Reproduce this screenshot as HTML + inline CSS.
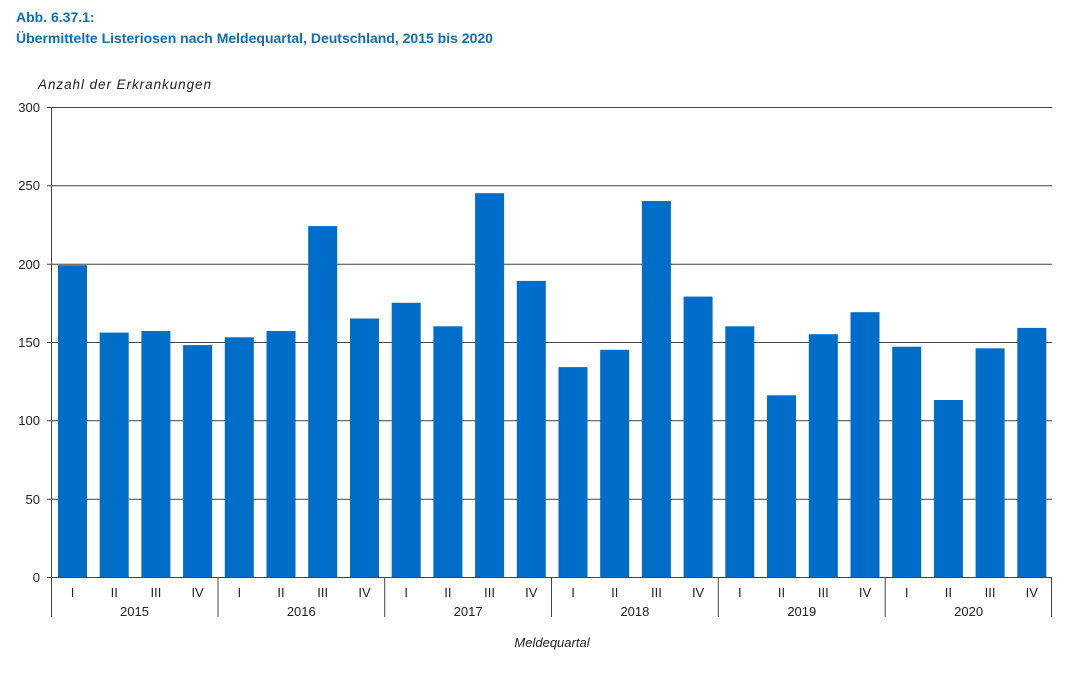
<!DOCTYPE html>
<html><head><meta charset="utf-8"><style>
body{margin:0;background:#fff;}
svg{display:block;font-family:"Liberation Sans",sans-serif;}
</style></head><body>
<svg width="1080" height="675" viewBox="0 0 1080 675" xmlns="http://www.w3.org/2000/svg">
<text x="16" y="22" font-size="14" font-weight="bold" fill="#0a6fc2">Abb. 6.37.1:</text>
<text x="16" y="43" font-size="14" font-weight="bold" fill="#0a6fc2">Übermittelte Listeriosen nach Meldequartal, Deutschland, 2015 bis 2020</text>
<text x="38" y="89" font-size="13.5" font-style="italic" fill="#222" textLength="173">Anzahl der Erkrankungen</text>
<g stroke="#444" stroke-width="1">
<line x1="47" y1="107.5" x2="1052" y2="107.5"/>
<line x1="47" y1="185.8" x2="1052" y2="185.8"/>
<line x1="47" y1="264.2" x2="1052" y2="264.2"/>
<line x1="47" y1="342.5" x2="1052" y2="342.5"/>
<line x1="47" y1="420.8" x2="1052" y2="420.8"/>
<line x1="47" y1="499.2" x2="1052" y2="499.2"/>
</g>
<g font-size="13" fill="#222" text-anchor="end">
<text x="40" y="112">300</text><text x="40" y="190">250</text><text x="40" y="269">200</text>
<text x="40" y="347">150</text><text x="40" y="425">100</text><text x="40" y="504">50</text><text x="40" y="582">0</text>
</g>
<g fill="#006ec8">
<rect x="58" y="265.2" width="29" height="311.8"/>
<rect x="99.7" y="332.6" width="29" height="244.4"/>
<rect x="141.4" y="331" width="29" height="246"/>
<rect x="183.1" y="345.1" width="29" height="231.9"/>
<rect x="224.8" y="337.3" width="29" height="239.7"/>
<rect x="266.5" y="331" width="29" height="246"/>
<rect x="308.2" y="226.1" width="29" height="350.9"/>
<rect x="350" y="318.5" width="29" height="258.5"/>
<rect x="391.7" y="302.8" width="29" height="274.2"/>
<rect x="433.4" y="326.3" width="29" height="250.7"/>
<rect x="475.1" y="193.2" width="29" height="383.8"/>
<rect x="516.8" y="280.9" width="29" height="296.1"/>
<rect x="558.5" y="367.1" width="29" height="209.9"/>
<rect x="600.2" y="349.8" width="29" height="227.2"/>
<rect x="641.9" y="201" width="29" height="376"/>
<rect x="683.6" y="296.6" width="29" height="280.4"/>
<rect x="725.3" y="326.3" width="29" height="250.7"/>
<rect x="767" y="395.3" width="29" height="181.7"/>
<rect x="808.8" y="334.2" width="29" height="242.8"/>
<rect x="850.5" y="312.2" width="29" height="264.8"/>
<rect x="892.2" y="346.7" width="29" height="230.3"/>
<rect x="933.9" y="400" width="29" height="177"/>
<rect x="975.6" y="348.3" width="29" height="228.7"/>
<rect x="1017.3" y="327.9" width="29" height="249.1"/>
</g>
<g stroke="#444" stroke-width="1">
<line x1="47" y1="577.5" x2="1052" y2="577.5"/>
<line x1="51.5" y1="107" x2="51.5" y2="617"/>
<line x1="218" y1="577" x2="218" y2="617"/>
<line x1="384.7" y1="577" x2="384.7" y2="617"/>
<line x1="551.5" y1="577" x2="551.5" y2="617"/>
<line x1="718.3" y1="577" x2="718.3" y2="617"/>
<line x1="885.2" y1="577" x2="885.2" y2="617"/>
<line x1="1051.5" y1="577" x2="1051.5" y2="617"/>
</g>
<g font-size="13" fill="#222" text-anchor="middle">
<text x="72.5" y="597">I</text><text x="114.2" y="597">II</text><text x="155.9" y="597">III</text><text x="197.6" y="597">IV</text>
<text x="239.3" y="597">I</text><text x="281" y="597">II</text><text x="322.7" y="597">III</text><text x="364.5" y="597">IV</text>
<text x="406.2" y="597">I</text><text x="447.9" y="597">II</text><text x="489.6" y="597">III</text><text x="531.3" y="597">IV</text>
<text x="573" y="597">I</text><text x="614.7" y="597">II</text><text x="656.4" y="597">III</text><text x="698.1" y="597">IV</text>
<text x="739.8" y="597">I</text><text x="781.5" y="597">II</text><text x="823.3" y="597">III</text><text x="865" y="597">IV</text>
<text x="906.7" y="597">I</text><text x="948.4" y="597">II</text><text x="990.1" y="597">III</text><text x="1031.8" y="597">IV</text>
<text x="134.5" y="616">2015</text><text x="301.3" y="616">2016</text><text x="468.1" y="616">2017</text>
<text x="634.9" y="616">2018</text><text x="801.8" y="616">2019</text><text x="968.6" y="616">2020</text>
<text x="552" y="647" font-style="italic">Meldequartal</text>
</g>
</svg>
</body></html>
